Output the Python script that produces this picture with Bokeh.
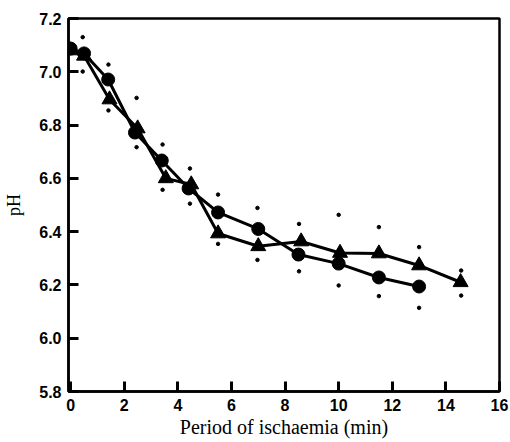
from bokeh.plotting import figure
from bokeh.models import FixedTicker, NumeralTickFormatter, Range1d
from bokeh.embed import file_html
from bokeh.resources import INLINE

# Data
circle_x = [0, 0.5, 1.4, 2.4, 3.4, 4.4, 5.5, 7.0, 8.5, 10.0, 11.5, 13.0]
circle_ph = [7.087, 7.069, 6.971, 6.772, 6.667, 6.562, 6.472, 6.41, 6.314, 6.28, 6.228, 6.194]

tri_x = [0, 0.5, 1.45, 2.5, 3.55, 4.5, 5.5, 7.0, 8.6, 10.05, 11.5, 13.0, 14.55]
tri_ph = [7.08, 7.06, 6.896, 6.787, 6.60, 6.577, 6.393, 6.345, 6.363, 6.32, 6.318, 6.273, 6.21]

err_x = [0.45, 1.41, 2.46, 3.43, 4.45, 5.5, 6.97, 8.52, 10.0, 11.5, 13.0, 14.57]
err_upper = [7.13, 7.027, 6.902, 6.727, 6.637, 6.539, 6.489, 6.429, 6.463, 6.417, 6.342, 6.254]
err_lower = [7.001, 6.855, 6.717, 6.557, 6.505, 6.354, 6.294, 6.251, 6.198, 6.158, 6.114, 6.16]

x_ticks = [0, 2, 4, 6, 8, 10, 12, 14, 16]
y_ticks = [5.8, 6.0, 6.2, 6.4, 6.6, 6.8, 7.0, 7.2]

p = figure(width=510, height=442, output_backend="svg", toolbar_location=None,
           x_range=Range1d(-0.08, 16), y_range=Range1d(5.8, 7.2),
           min_border_left=68, min_border_right=11, min_border_top=18, min_border_bottom=51)

p.grid.visible = False
p.outline_line_color = "black"
p.outline_line_width = 2.5
p.background_fill_color = "white"
p.border_fill_color = "white"

for ax in (p.xaxis[0], p.yaxis[0]):
    ax.axis_line_width = 2.5
    ax.axis_line_color = "black"
    ax.major_tick_in = 10
    ax.major_tick_out = 0
    ax.major_tick_line_width = 3
    ax.major_tick_line_color = "black"
    ax.minor_tick_line_color = None
    ax.major_label_text_font = "Liberation Sans"
    ax.major_label_text_font_style = "bold"
    ax.major_label_text_font_size = "16px"
    ax.major_label_text_color = "black"
    ax.major_label_standoff = 7
    ax.axis_label_text_font = "Liberation Serif"
    ax.axis_label_text_font_style = "normal"
    ax.axis_label_text_color = "black"

p.xaxis.axis_label_text_font_size = "20px"
p.yaxis.axis_label_text_font_size = "18px"
p.xaxis.ticker = FixedTicker(ticks=x_ticks)
p.yaxis.ticker = FixedTicker(ticks=y_ticks)
p.yaxis.formatter = NumeralTickFormatter(format="0.0")
p.xaxis.axis_label = "Period of ischaemia (min)"
p.yaxis.axis_label = "pH"
p.xaxis.axis_label_standoff = 2
p.yaxis.axis_label_standoff = 12

# error dots
p.scatter(err_x, err_upper, size=3.5, color="black")
p.scatter(err_x, err_lower, size=3.5, color="black")

# series
p.line(tri_x, tri_ph, line_width=3, color="black")
p.line(circle_x, circle_ph, line_width=3, color="black")
p.scatter(tri_x, tri_ph, marker="triangle", size=15, color="black")
p.scatter(circle_x, circle_ph, marker="circle", size=13, color="black")

open("out.html", "w").write(file_html(p, INLINE))
